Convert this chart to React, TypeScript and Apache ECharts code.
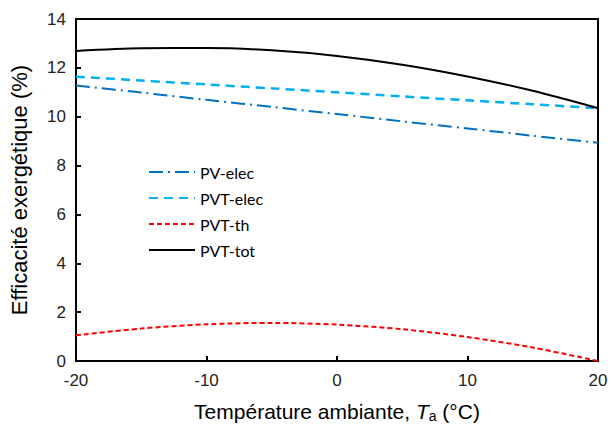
import React, { useEffect, useRef } from "react";
import * as echarts from "echarts";

const temps = [-20, -15, -10, -5, 0, 5, 10, 15, 20];
const pvElec = [11.28, 10.99, 10.69, 10.4, 10.11, 9.81, 9.52, 9.22, 8.93];
const pvtElec = [11.64, 11.48, 11.32, 11.16, 11.0, 10.83, 10.67, 10.51, 10.35];
const pvtTh = [1.05, 1.33, 1.5, 1.56, 1.49, 1.3, 0.98, 0.55, 0.0];
const pvtTot = [12.69, 12.8, 12.81, 12.72, 12.49, 12.13, 11.65, 11.06, 10.35];

const pair = (ys: number[]) => temps.map((t, i) => [t, ys[i]]);

export default function App() {
  const ref = useRef<HTMLDivElement>(null);
  useEffect(() => {
    const chart = echarts.init(ref.current!, null, { renderer: "svg" });
    const axisFont = "Liberation Sans, Arial, sans-serif";
    chart.setOption({
      animation: false,
      backgroundColor: "#ffffff",
      grid: {
        left: 72,
        right: 13,
        top: 19,
        bottom: 62,
        show: true,
        borderColor: "#000",
        borderWidth: 2,
        backgroundColor: "transparent",
      },
      legend: {
        orient: "vertical",
        left: 143,
        top: 159,
        itemWidth: 46,
        itemHeight: 10,
        itemGap: 10,
        itemStyle: { opacity: 0, borderWidth: 0 },
        textStyle: { fontFamily: "Lato, sans-serif", fontSize: 16, color: "#000" },
        data: ["PV-elec", "PVT-elec", "PVT-th", "PVT-tot"],
      },
      xAxis: {
        type: "value",
        min: -20,
        max: 20,
        interval: 10,
        splitLine: { show: false },
        axisLine: { onZero: false, lineStyle: { color: "#000", width: 2 } },
        axisTick: { inside: true, length: 5, lineStyle: { color: "#000", width: 2 } },
        axisLabel: { fontFamily: axisFont, fontSize: 17, color: "#222", margin: 11 },
        name: "Température ambiante, {i|T}{s|a} (°C)",
        nameLocation: "middle",
        nameGap: 38,
        nameTextStyle: {
          fontFamily: axisFont,
          fontSize: 21,
          color: "#000",
          rich: {
            i: { fontFamily: axisFont, fontSize: 21, fontStyle: "italic", color: "#000" },
            s: { fontFamily: axisFont, fontSize: 14, color: "#000", padding: [10, 0, 0, 0] },
          },
        },
      },
      yAxis: {
        type: "value",
        min: 0,
        max: 14,
        interval: 2,
        splitLine: { show: false },
        axisLine: { onZero: false, lineStyle: { color: "#000", width: 2 } },
        axisTick: { inside: true, length: 5, lineStyle: { color: "#000", width: 2 } },
        axisLabel: { fontFamily: axisFont, fontSize: 17, color: "#222", margin: 10 },
        name: "Efficacité exergétique (%)",
        nameLocation: "middle",
        nameGap: 46,
        nameTextStyle: { fontFamily: axisFont, fontSize: 22, color: "#000" },
      },
      series: [
        {
          name: "PV-elec",
          type: "line",
          smooth: 0.3,
          symbol: "none",
          data: pair(pvElec),
          itemStyle: { color: "#0070C0" },
          lineStyle: { color: "#0070C0", width: 2, type: [14, 5, 2, 5] },
        },
        {
          name: "PVT-elec",
          type: "line",
          smooth: 0.3,
          symbol: "none",
          data: pair(pvtElec),
          itemStyle: { color: "#00B0F0" },
          lineStyle: { color: "#00B0F0", width: 2.5, type: [9, 6] },
        },
        {
          name: "PVT-th",
          type: "line",
          smooth: 0.3,
          symbol: "none",
          data: pair(pvtTh),
          itemStyle: { color: "#FF0000" },
          lineStyle: { color: "#FF0000", width: 2, type: [5, 3] },
        },
        {
          name: "PVT-tot",
          type: "line",
          smooth: 0.3,
          symbol: "none",
          data: pair(pvtTot),
          itemStyle: { color: "#000" },
          lineStyle: { color: "#000", width: 2 },
        },
      ],
    });
    return () => chart.dispose();
  }, []);
  return (
    <div
      ref={ref}
      style={{ position: "fixed", left: 0, top: 0, width: 611, height: 428, background: "#fff" }}
    />
  );
}
